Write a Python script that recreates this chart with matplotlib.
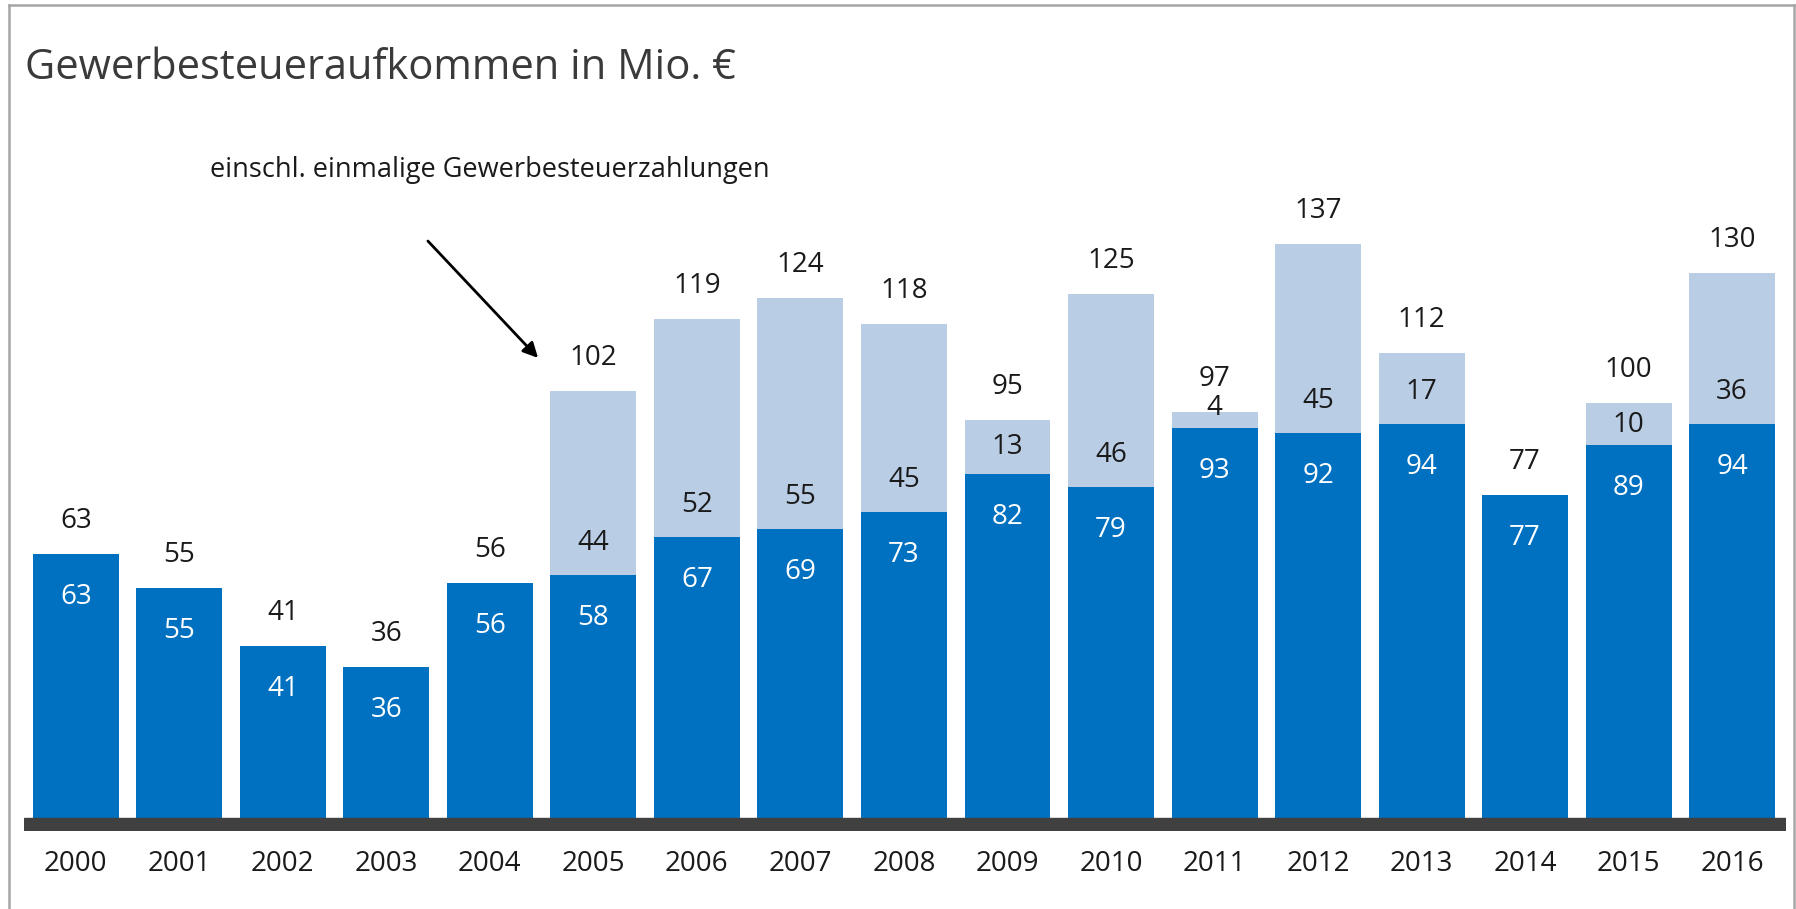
import matplotlib.pyplot as plt
from matplotlib.lines import Line2D

years = [str(y) for y in range(2000, 2017)]
base = [63, 55, 41, 36, 56, 58, 67, 69, 73, 82, 79, 93, 92, 94, 77, 89, 94]
extra = [0, 0, 0, 0, 0, 44, 52, 55, 45, 13, 46, 4, 45, 17, 0, 10, 36]
totals = [63, 55, 41, 36, 56, 102, 119, 124, 118, 95, 125, 97, 137, 112, 77, 100, 130]

title = "Gewerbesteueraufkommen in Mio. €"
note = "einschl. einmalige Gewerbesteuerzahlungen"

DARK = "#0070C0"
LIGHT = "#B9CDE5"
AXIS = "#404040"
FRAME = "#A6A6A6"

plt.rcParams['font.family'] = ['Open Sans', 'DejaVu Sans']

W, H = 1796, 909
fig = plt.figure(figsize=(W / 100, H / 100), dpi=100)

scale = 4.19  # pixels per unit
ymin, ymax = -3.1, 170
ax = fig.add_axes([24 / W, 78 / H, (1786 - 24) / W, (ymax - ymin) * scale / H])

x = list(range(len(years)))
ax.bar(x, base, width=0.83, color=DARK, zorder=2)
ax.bar(x, extra, bottom=base, width=0.83, color=LIGHT, zorder=2)
ax.axhspan(ymin, 0, color=AXIS, zorder=3)

ax.set_xlim(-0.5, 16.52)
ax.set_ylim(ymin, ymax)
ax.set_xticks(x)
ax.set_xticklabels(years, fontsize=20, color="#1a1a1a")
ax.tick_params(axis='x', length=0, pad=14)
ax.set_yticks([])
for s in ax.spines.values():
    s.set_visible(False)

px = 0.72  # points per pixel at dpi 100
fs = 20
for i in x:
    top = base[i] + extra[i]
    # total above the bar
    ax.annotate(str(totals[i]), (i, top), xytext=(0, 33 * px), textcoords='offset points',
                ha='center', va='center', fontsize=fs, color="#1a1a1a")
    # value inside the dark segment
    ax.annotate(str(base[i]), (i, base[i]), xytext=(0, -43 * px), textcoords='offset points',
                ha='center', va='center', fontsize=fs, color="white")
    if extra[i] > 0:
        seg = extra[i] * scale
        off = min(37, max(0.6 * seg, 25)) - 5
        ax.annotate(str(extra[i]), (i, base[i]), xytext=(0, off * px), textcoords='offset points',
                    ha='center', va='center', fontsize=fs, color="#1a1a1a")

# note with arrow pointing at 2005
fig.text(210 / W, 1 - 170 / H, note, fontsize=19.5, color="#1a1a1a", va='center', ha='left')
ax.annotate("", xy=(540 / W, 1 - 360 / H), xycoords='figure fraction',
            xytext=(426 / W, 1 - 239 / H), textcoords='figure fraction',
            arrowprops=dict(arrowstyle='-|>,head_length=0.9,head_width=0.45', color='black', lw=2))

fig.text(25 / W, 1 - 68 / H, title, fontsize=30, color="#3a3a3a", va='center', ha='left')

# frame lines (left, top, right)
fig.add_artist(Line2D([9 / W, 9 / W], [0, 1 - 5 / H], color=FRAME, lw=1.8, transform=fig.transFigure))
fig.add_artist(Line2D([9 / W, 1794 / W], [1 - 5 / H, 1 - 5 / H], color=FRAME, lw=1.8, transform=fig.transFigure))
fig.add_artist(Line2D([1794 / W, 1794 / W], [0, 1 - 5 / H], color=FRAME, lw=1.8, transform=fig.transFigure))

fig.savefig("out.png", dpi=100)
